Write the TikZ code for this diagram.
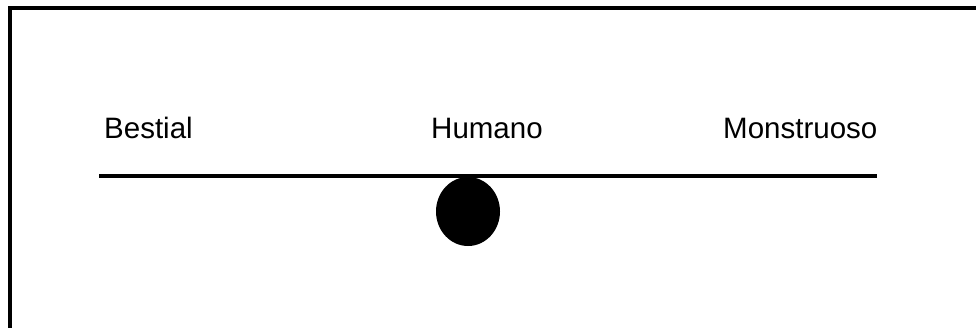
\documentclass[tikz,border=0pt]{standalone}
\usepackage{fontspec}
\setmainfont{Liberation Sans}
\tikzset{
  lbl/.style={anchor=base west, inner sep=0pt, font=\fontsize{29.5}{32}\selectfont},
  scaleline/.style={line width=3.2pt},
  frameline/.style={line width=4pt}
}
\begin{document}
\begin{tikzpicture}[x=1pt,y=1pt]
\useasboundingbox (0,0) rectangle (976,-327);
\begin{scope}
\clip (0,0) rectangle (976,-327);
\draw[frameline] (10,-8) rectangle (1000,-360);
\end{scope}
\node[lbl] (b) at (104,-138.5) {Bestial};
\node[lbl] (h) at (431,-138.5) {Humano};
\node[lbl] (m) at (723,-138.5) {Monstruoso};
\coordinate (l) at (99,-176);
\coordinate (r) at (877,-176);
\draw[scaleline] (l) -- (r);
\fill (468,-211.5) ellipse [x radius=32, y radius=34.5];
\end{tikzpicture}
\end{document}
